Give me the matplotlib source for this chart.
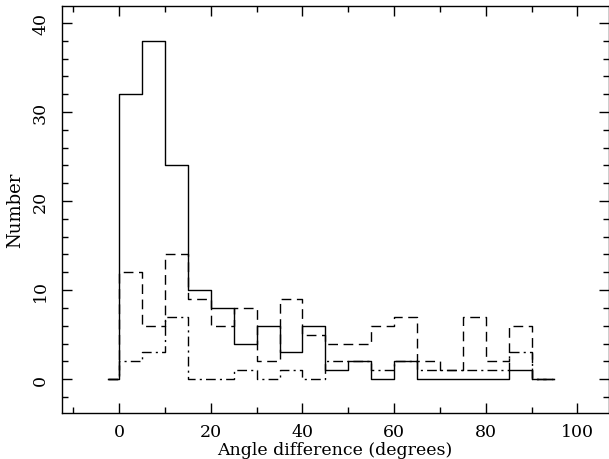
import numpy as np
import matplotlib
matplotlib.use('Agg')
import matplotlib.pyplot as plt
from matplotlib.ticker import MultipleLocator

# bin edges (5 degree bins, with an empty half bin on the left and an empty bin on the right)
edges = [-2.5] + list(range(0, 100, 5))
# counts in bins 0-5, 5-10, ..., 85-90
solid = [32, 38, 24, 10, 8, 4, 6, 3, 6, 1, 2, 0, 2, 0, 0, 0, 0, 1]
dashed = [12, 6, 14, 9, 6, 8, 2, 9, 5, 4, 4, 6, 7, 2, 1, 7, 2, 6]
dashdot = [2, 3, 7, 0, 0, 1, 0, 1, 0, 2, 2, 1, 2, 1, 1, 1, 1, 3]

def steps(vals):
    v = [0] + list(vals) + [0]
    return np.array(edges), np.array(v + [v[-1]])

plt.rcParams['font.family'] = 'DejaVu Serif'
fig = plt.figure(figsize=(6.09, 4.60), dpi=100)
ax = fig.add_axes([61.5/609, 46/460, 547/609, 407/460])

x, y = steps(solid)
ax.step(x, y, where='post', color='k', lw=1.0, linestyle='-')
x, y = steps(dashed)
ax.step(x, y, where='post', color='k', lw=1.0, linestyle=(0, (7, 4)))
x, y = steps(dashdot)
ax.step(x, y, where='post', color='k', lw=1.0, linestyle=(0, (7, 3, 1.5, 3)))

ax.set_xlim(-12.6, 106.8)
ax.set_ylim(-3.8, 41.9)
ax.xaxis.set_major_locator(MultipleLocator(20))
ax.xaxis.set_minor_locator(MultipleLocator(10))
ax.yaxis.set_major_locator(MultipleLocator(10))
ax.yaxis.set_minor_locator(MultipleLocator(2))
ax.tick_params(which='both', direction='in', top=True, right=True, width=1.0, labelsize=12.5)
ax.tick_params(which='major', length=7)
ax.tick_params(which='minor', length=4)
ax.tick_params(axis='x', which='major', pad=7)
ax.tick_params(axis='y', which='major', pad=9)
for lab in ax.get_yticklabels():
    lab.set_rotation(90)
    lab.set_va('center')
ax.set_xlabel('Angle difference (degrees)', fontsize=12.5)
ax.xaxis.set_label_coords(0.5, -0.068)
ax.set_ylabel('Number', fontsize=13, labelpad=6)
for s in ax.spines.values():
    s.set_linewidth(1.0)

fig.savefig('out.png', dpi=100)
